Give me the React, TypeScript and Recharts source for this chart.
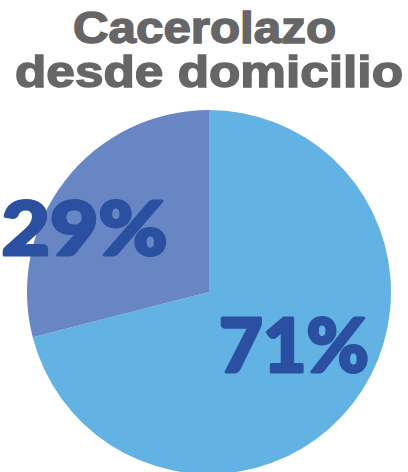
import React from "react";
import { PieChart, Pie, Cell } from "recharts";

const categories = ["Sí", "No"];
const values = [71, 29];
const labels = ["71%", "29%"];
const titleLines = ["Cacerolazo", "desde domicilio"];

const colors = ["#63b2e4", "#6886c4"];
const labelRadius = [100, 140];
const labelAngleOffset = [6, 10.5];
const labelWidths = [150, 166];

const data = categories.map((c, i) => ({ name: c, value: values[i], label: labels[i] }));

const RAD = Math.PI / 180;

const renderLabel = (props: any) => {
  const { cx, cy, midAngle, index } = props;
  const a = (midAngle + labelAngleOffset[index]) * RAD;
  const x = cx + labelRadius[index] * Math.cos(a);
  const y = cy - labelRadius[index] * Math.sin(a);
  return (
    <text
      x={x}
      y={y + 27}
      textAnchor="middle"
      fill="#2b50a1"
      stroke="#2b50a1"
      strokeWidth={3}
      strokeLinejoin="round"
      fontFamily="Lato, 'DejaVu Sans', sans-serif"
      fontWeight={900}
      fontSize={74}
      textLength={labelWidths[index]}
      lengthAdjust="spacingAndGlyphs"
    >
      {data[index].label}
    </text>
  );
};

export default function App() {
  return (
    <div style={{ position: "absolute", left: 0, top: 0, width: 408, height: 472, background: "#fff" }}>
      <PieChart width={408} height={472} margin={{ top: 0, right: 0, bottom: 0, left: 0 }}>
        <Pie
          data={data}
          dataKey="value"
          cx={209}
          cy={292}
          outerRadius={182}
          startAngle={90}
          endAngle={-270}
          stroke="none"
          label={renderLabel}
          labelLine={false}
          isAnimationActive={false}
        >
          {data.map((d, i) => (
            <Cell key={d.name} fill={colors[i]} />
          ))}
        </Pie>
      </PieChart>
      <svg width={408} height={100} style={{ position: "absolute", left: 0, top: 0 }}>
        <text
          x={204.5}
          y={43}
          textAnchor="middle"
          fill="#666666"
          fontFamily="'Liberation Sans', Arial, sans-serif"
          fontWeight={900}
          fontSize={45}
          textLength={263}
          lengthAdjust="spacingAndGlyphs"
          stroke="#666666"
          strokeWidth={1.5}
        >
          {titleLines[0]}
        </text>
        <text
          x={209}
          y={87}
          textAnchor="middle"
          fill="#666666"
          fontFamily="'Liberation Sans', Arial, sans-serif"
          fontWeight={900}
          fontSize={45}
          textLength={388}
          lengthAdjust="spacingAndGlyphs"
          stroke="#666666"
          strokeWidth={1.5}
        >
          {titleLines[1]}
        </text>
      </svg>
    </div>
  );
}
